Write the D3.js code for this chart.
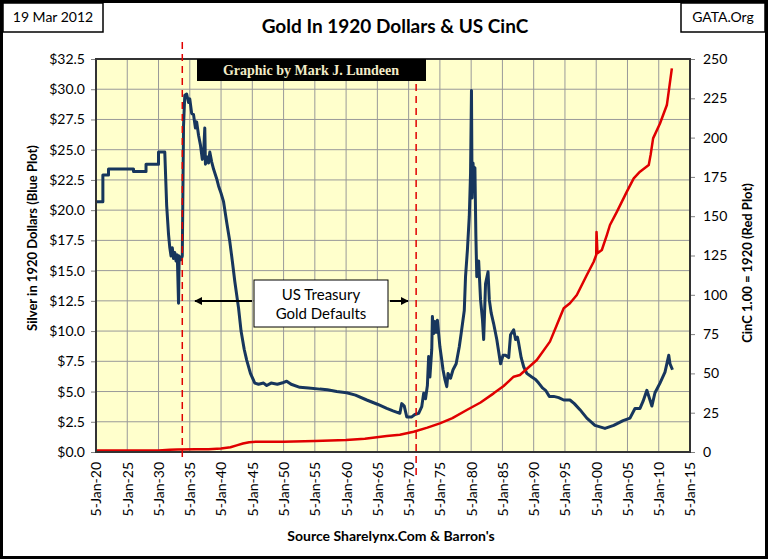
<!DOCTYPE html>
<html>
<head>
<meta charset="utf-8">
<script src="https://cdn.jsdelivr.net/npm/d3@7"></script>
<style>
body { margin: 0; background: #fff; }
svg { display: block; font-family: Lato, "Open Sans", sans-serif; }
</style>
</head>
<body>
<div id="chart"></div>
<script>
// Data
const tickYears = [1920, 1925, 1930, 1935, 1940, 1945, 1950, 1955, 1960, 1965,
    1970, 1975, 1980, 1985, 1990, 1995, 2000, 2005, 2010, 2015];
const xTickLabels = ['5-Jan-20', '5-Jan-25', '5-Jan-30', '5-Jan-35', '5-Jan-40', '5-Jan-45',
    '5-Jan-50', '5-Jan-55', '5-Jan-60', '5-Jan-65', '5-Jan-70', '5-Jan-75', '5-Jan-80',
    '5-Jan-85', '5-Jan-90', '5-Jan-95', '5-Jan-00', '5-Jan-05', '5-Jan-10', '5-Jan-15'];
const leftTicks = [0, 2.5, 5, 7.5, 10, 12.5, 15, 17.5, 20, 22.5, 25, 27.5, 30, 32.5];
const rightTicks = [0, 25, 50, 75, 100, 125, 150, 175, 200, 225, 250];
const defaultYears = [1933.8, 1971.2];

// gold in 1920 dollars (blue plot)
const goldYears = [1920.0, 1921.1, 1921.1, 1922.0, 1922.0, 1926.0, 1926.0, 1928.0, 1928.0, 1930.0,
    1930.0, 1931.0, 1931.3, 1931.6, 1931.8, 1932.0, 1932.2, 1932.4, 1932.6, 1932.8,
    1933.0, 1933.2, 1933.3, 1933.6, 1933.8, 1934.0, 1934.2, 1934.5, 1934.8, 1935.0,
    1935.3, 1935.6, 1935.9, 1936.1, 1936.4, 1936.7, 1937.0, 1937.2, 1937.4, 1937.5,
    1937.8, 1938.0, 1938.2, 1938.5, 1938.8, 1939.3, 1939.6, 1940.0, 1940.4, 1940.9,
    1941.4, 1941.8, 1942.2, 1942.8, 1943.2, 1943.7, 1944.1, 1944.7, 1945.4, 1946.0,
    1946.8, 1947.3, 1948.0, 1949.0, 1950.0, 1950.5, 1951.2, 1952.6, 1954.0, 1955.8,
    1957.0, 1958.5, 1960.1, 1961.5, 1963.3, 1965.0, 1966.5, 1967.5, 1968.6, 1968.9,
    1969.3, 1969.7, 1970.5, 1971.0, 1971.6, 1972.1, 1972.4, 1972.7, 1973.0, 1973.2,
    1973.4, 1973.7, 1973.8, 1974.0, 1974.2, 1974.4, 1974.6, 1975.0, 1975.3, 1975.5,
    1975.8, 1976.1, 1976.3, 1976.7, 1977.1, 1977.6, 1978.1, 1978.4, 1978.9, 1979.1,
    1979.4, 1979.7, 1979.9, 1980.05, 1980.15, 1980.3, 1980.45, 1980.6, 1980.75, 1980.9,
    1981.2, 1981.5, 1981.8, 1982.0, 1982.3, 1982.7, 1982.9, 1983.2, 1983.6, 1984.1,
    1984.7, 1985.1, 1985.5, 1986.0, 1986.3, 1986.8, 1987.1, 1987.4, 1987.6, 1988.0,
    1988.4, 1988.9, 1989.7, 1990.3, 1990.8, 1991.4, 1991.9, 1992.5, 1993.2, 1994.0,
    1994.8, 1995.8, 1996.5, 1997.4, 1998.5, 1999.8, 2001.4, 2002.8, 2004.3, 2005.4,
    2006.2, 2007.0, 2007.5, 2008.1, 2008.6, 2008.9, 2009.4, 2010.2, 2011.0, 2011.6,
    2011.8, 2012.2];
const goldValues = [20.7, 20.7, 22.9, 22.9, 23.4, 23.4, 23.2, 23.2, 23.8, 23.8,
    24.8, 24.8, 20.4, 18.0, 16.9, 16.2, 16.9, 16.0, 16.5, 15.8,
    16.3, 12.3, 16.2, 15.9, 16.2, 27.0, 29.5, 29.6, 28.9, 29.2,
    28.0, 27.9, 26.8, 27.3, 26.2, 25.4, 24.2, 24.6, 26.8, 23.8,
    24.4, 23.9, 24.8, 24.0, 23.4, 22.6, 22.0, 21.4, 20.7, 19.0,
    17.4, 15.8, 14.1, 11.9, 10.0, 8.5, 7.6, 6.5, 5.7, 5.6,
    5.7, 5.5, 5.7, 5.6, 5.75, 5.85, 5.6, 5.35, 5.3, 5.2,
    5.15, 5.0, 4.9, 4.7, 4.3, 3.95, 3.6, 3.4, 3.2, 4.0,
    3.8, 2.9, 2.9, 3.1, 3.2, 3.75, 4.85, 4.4, 5.5, 7.9,
    6.2, 8.5, 11.2, 9.8, 10.8, 9.9, 10.9, 8.7, 7.6, 6.8,
    6.0, 5.4, 6.5, 6.1, 6.8, 7.3, 8.7, 9.8, 11.7, 14.5,
    16.7, 19.5, 23.0, 29.9, 21.0, 23.9, 22.3, 23.5, 18.0, 14.5,
    15.8, 12.6, 11.0, 9.3, 13.9, 14.9, 12.6, 11.5, 10.6, 9.3,
    7.3, 8.0, 8.0, 7.8, 9.7, 10.1, 9.3, 9.5, 9.0, 7.8,
    7.05, 6.5, 6.2, 6.0, 5.7, 5.3, 5.1, 4.6, 4.6, 4.5,
    4.3, 4.3, 4.0, 3.5, 2.8, 2.2, 1.95, 2.2, 2.6, 2.8,
    3.6, 3.6, 4.2, 5.1, 4.3, 3.8, 4.9, 5.7, 6.6, 8.0,
    7.3, 6.8];

// US currency in circulation index (red plot)
const cincYears = [1920, 1925, 1930, 1931.8, 1933, 1936, 1938, 1940, 1941.5, 1942.5,
    1943.5, 1944.5, 1945.6, 1948, 1950, 1955, 1960, 1963, 1966.5, 1968.6,
    1970.8, 1973, 1975, 1977, 1979.3, 1981.5, 1983.6, 1985.2, 1986.8, 1987.8,
    1990.5, 1992.6, 1993.7, 1994.8, 1995.8, 1996.9, 1998.5, 1999.6, 2000.0, 2000.05,
    2000.2, 2000.9, 2001.7, 2002.2, 2003.3, 2004.9, 2006.0, 2007.0, 2008.4, 2008.7,
    2009.1, 2010.2, 2011.3, 2012.1];
const cincValues = [1.0, 0.9, 0.9, 1.4, 1.6, 1.7, 1.8, 2.2, 3.0, 4.2,
    5.4, 6.2, 6.6, 6.6, 6.6, 7.0, 7.6, 8.5, 10.2, 11.0,
    12.9, 15.5, 18.2, 21.5, 26.7, 31.5, 37.3, 42.0, 47.9, 49.0,
    58.5, 70.2, 80.8, 91.4, 94.6, 99.9, 112.6, 121.0, 125.3, 140.0,
    126.4, 128.5, 138.0, 144.4, 152.8, 165.6, 174.1, 178.3, 182.5, 189.0,
    199.5, 209.0, 220.7, 244.0];

const chart_width = 768;
const chart_height = 559;
const plot = { left: 96, right: 690, top: 59, bottom: 452 };

// Scales
const x_scale = d3.scaleLinear()
    .domain([1920, 2015])
    .range([plot.left, plot.right]);

const y_left = d3.scaleLinear()
    .domain([0, 32.5])
    .range([plot.bottom, plot.top]);

const y_right = d3.scaleLinear()
    .domain([0, 250])
    .range([plot.bottom, plot.top]);

// Create SVG Element
const svg = d3.select('#chart')
    .append('svg')
    .attr('width', chart_width)
    .attr('height', chart_height);

svg.append('rect')
    .attr('x', 1.5).attr('y', 1.5)
    .attr('width', chart_width - 3).attr('height', chart_height - 3)
    .attr('fill', '#fff')
    .attr('stroke', '#000')
    .attr('stroke-width', 3);

// Corner boxes
svg.append('rect')
    .attr('x', 3).attr('y', 3).attr('width', 100).attr('height', 29)
    .attr('fill', '#fff').attr('stroke', '#000').attr('stroke-width', 1.5);
svg.append('text')
    .attr('x', 53).attr('y', 22)
    .attr('text-anchor', 'middle')
    .attr('font-size', 14)
    .text('19 Mar 2012');

svg.append('rect')
    .attr('x', 681).attr('y', 3).attr('width', 84).attr('height', 29)
    .attr('fill', '#fff').attr('stroke', '#000').attr('stroke-width', 1.5);
svg.append('text')
    .attr('x', 723).attr('y', 22)
    .attr('text-anchor', 'middle')
    .attr('font-size', 14)
    .text('GATA.Org');

// Title
svg.append('text')
    .attr('x', 395).attr('y', 33)
    .attr('text-anchor', 'middle')
    .attr('font-size', 19)
    .attr('font-weight', 'bold')
    .text('Gold In 1920 Dollars & US CinC');

// Plot background
svg.append('rect')
    .attr('x', plot.left).attr('y', plot.top)
    .attr('width', plot.right - plot.left)
    .attr('height', plot.bottom - plot.top)
    .attr('fill', '#ffffcc');

// Gridlines
svg.append('g')
    .selectAll('line')
    .data(leftTicks)
    .enter()
    .append('line')
    .attr('x1', plot.left).attr('x2', plot.right)
    .attr('y1', d => y_left(d)).attr('y2', d => y_left(d))
    .attr('stroke', '#999');

svg.append('g')
    .selectAll('line')
    .data(tickYears)
    .enter()
    .append('line')
    .attr('x1', d => x_scale(d)).attr('x2', d => x_scale(d))
    .attr('y1', plot.top).attr('y2', plot.bottom)
    .attr('stroke', '#999');

// Axes
const left_axis = svg.append('g')
    .attr('transform', `translate(${plot.left},0)`)
    .call(d3.axisLeft(y_left)
        .tickValues(leftTicks)
        .tickFormat(d3.format('$.1f'))
        .tickSize(5)
        .tickPadding(6));

const right_axis = svg.append('g')
    .attr('transform', `translate(${plot.right},0)`)
    .call(d3.axisRight(y_right)
        .tickValues(rightTicks)
        .tickSize(5)
        .tickPadding(8));

const bottom_axis = svg.append('g')
    .attr('transform', `translate(0,${plot.bottom})`)
    .call(d3.axisBottom(x_scale)
        .tickValues(tickYears)
        .tickFormat((d, i) => xTickLabels[i])
        .tickSize(0));

bottom_axis.selectAll('text')
    .attr('transform', 'rotate(-90)')
    .attr('text-anchor', 'end')
    .attr('x', -10)
    .attr('y', 0)
    .attr('dy', '0.35em');

[left_axis, right_axis, bottom_axis].forEach(g => {
    g.select('.domain').remove();
    g.selectAll('.tick line').attr('stroke', '#808080');
    g.selectAll('text').attr('font-size', 14).attr('fill', '#000').attr('font-family', 'Lato, sans-serif');
});

// Axis titles
svg.append('text')
    .attr('transform', 'translate(37,238) rotate(-90)')
    .attr('text-anchor', 'middle')
    .attr('font-size', 13)
    .attr('font-weight', 'bold')
    .text('Silver in 1920 Dollars (Blue Plot)');

svg.append('text')
    .attr('transform', 'translate(752,263) rotate(-90)')
    .attr('text-anchor', 'middle')
    .attr('font-size', 13)
    .attr('font-weight', 'bold')
    .text('CinC 1.00 = 1920 (Red Plot)');

svg.append('text')
    .attr('x', 391).attr('y', 541)
    .attr('text-anchor', 'middle')
    .attr('font-size', 14)
    .attr('font-weight', 'bold')
    .text("Source Sharelynx.Com & Barron's");

// Lines
const gold_line = d3.line()
    .x((d, i) => x_scale(goldYears[i]))
    .y(d => y_left(d));

const cinc_line = d3.line()
    .x((d, i) => x_scale(cincYears[i]))
    .y(d => y_right(d));

svg.append('path')
    .datum(goldValues)
    .attr('d', gold_line)
    .attr('fill', 'none')
    .attr('stroke', '#17365d')
    .attr('stroke-width', 3)
    .attr('stroke-linejoin', 'round');

svg.append('path')
    .datum(cincValues)
    .attr('d', cinc_line)
    .attr('fill', 'none')
    .attr('stroke', '#e00000')
    .attr('stroke-width', 2.5)
    .attr('stroke-linejoin', 'round');

// Plot border
svg.append('rect')
    .attr('x', plot.left).attr('y', plot.top)
    .attr('width', plot.right - plot.left)
    .attr('height', plot.bottom - plot.top)
    .attr('fill', 'none')
    .attr('stroke', '#333')
    .attr('stroke-width', 2);

// Default markers
svg.append('line')
    .attr('x1', x_scale(defaultYears[0])).attr('x2', x_scale(defaultYears[0]))
    .attr('y1', 42).attr('y2', 459)
    .attr('stroke', '#e00000').attr('stroke-width', 1.5)
    .attr('stroke-dasharray', '7,5');

svg.append('line')
    .attr('x1', x_scale(defaultYears[1])).attr('x2', x_scale(defaultYears[1]))
    .attr('y1', 60).attr('y2', 477)
    .attr('stroke', '#e00000').attr('stroke-width', 1.5)
    .attr('stroke-dasharray', '7,5');

// Banner
svg.append('rect')
    .attr('x', 197).attr('y', 59).attr('width', 229).attr('height', 22)
    .attr('fill', '#000');
svg.append('text')
    .attr('x', 311).attr('y', 75)
    .attr('text-anchor', 'middle')
    .attr('font-family', '"Liberation Serif", serif')
    .attr('font-weight', 'bold')
    .attr('font-size', 14)
    .attr('fill', '#f3ecc8')
    .text('Graphic by Mark J. Lundeen');

// Note box with arrows
svg.append('defs')
    .append('marker')
    .attr('id', 'arrow')
    .attr('viewBox', '0 0 10 10')
    .attr('refX', 9).attr('refY', 5)
    .attr('markerWidth', 4).attr('markerHeight', 4)
    .attr('orient', 'auto')
    .append('path')
    .attr('d', 'M0,0L10,5L0,10Z')
    .attr('fill', '#000');

svg.append('line')
    .attr('x1', 252).attr('y1', 301).attr('x2', 195).attr('y2', 301)
    .attr('stroke', '#000').attr('stroke-width', 2)
    .attr('marker-end', 'url(#arrow)');

svg.append('line')
    .attr('x1', 390).attr('y1', 301).attr('x2', 408).attr('y2', 301)
    .attr('stroke', '#000').attr('stroke-width', 2)
    .attr('marker-end', 'url(#arrow)');

svg.append('rect')
    .attr('x', 254).attr('y', 280).attr('width', 134).attr('height', 47)
    .attr('fill', '#fff').attr('stroke', '#000').attr('stroke-width', 1);

svg.append('text')
    .attr('x', 321).attr('y', 300)
    .attr('text-anchor', 'middle')
    .attr('font-size', 15)
    .text('US Treasury');

svg.append('text')
    .attr('x', 321).attr('y', 319)
    .attr('text-anchor', 'middle')
    .attr('font-size', 15)
    .text('Gold Defaults');
</script>
</body>
</html>
